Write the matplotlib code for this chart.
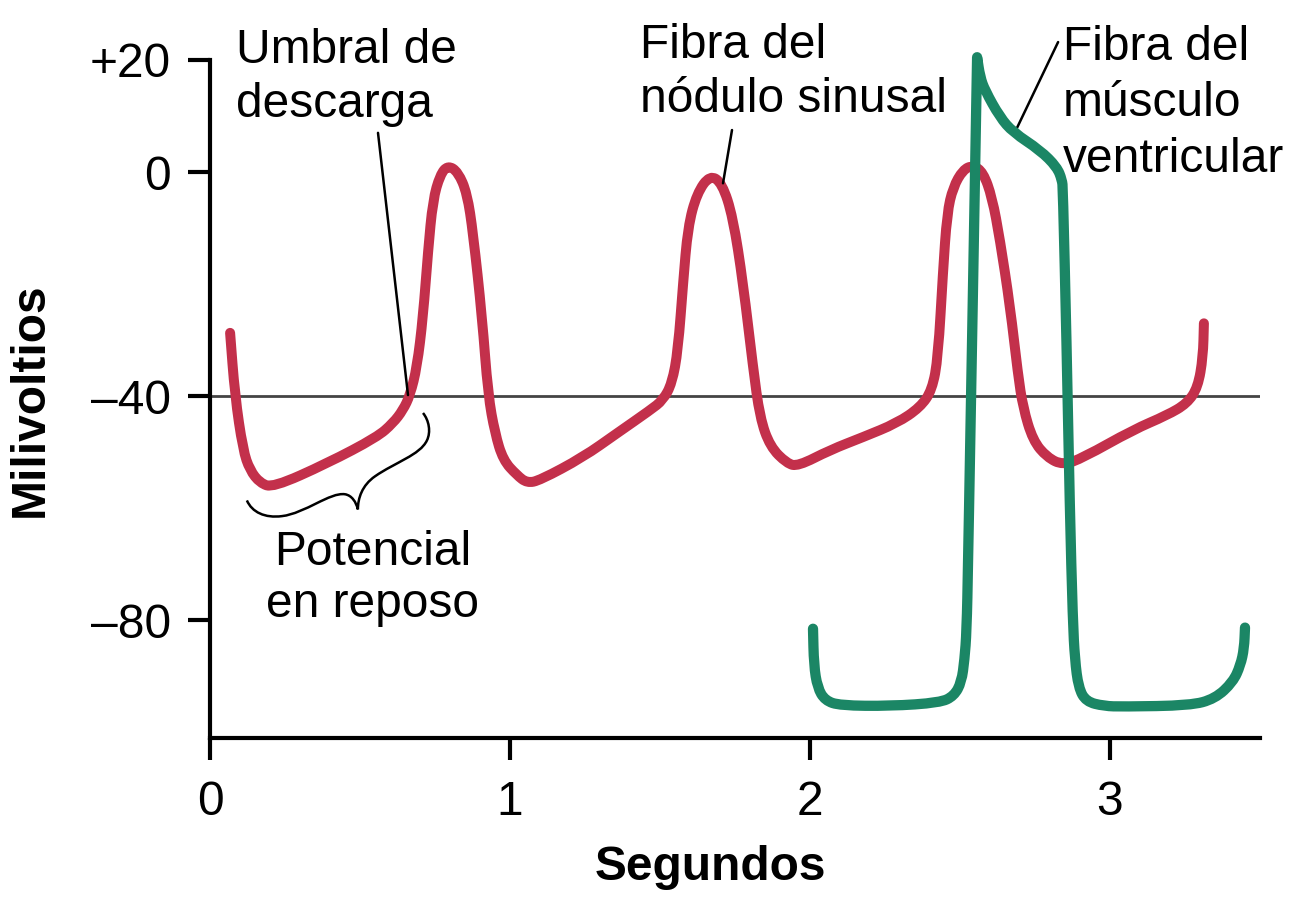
import matplotlib
matplotlib.use("Agg")
import matplotlib.pyplot as plt
from matplotlib.path import Path
from matplotlib.patches import PathPatch

plt.rcParams['font.family'] = ['Liberation Sans', 'DejaVu Sans']

# ---- data (seconds, millivolts) ----
sa_time = [0.067, 0.083, 0.11, 0.133, 0.167, 0.21, 0.39, 0.557, 0.61, 0.643, 0.667,
           0.69, 0.71, 0.727, 0.743, 0.767, 0.793, 0.827, 0.857, 0.877, 0.907, 0.927,
           0.95, 0.977, 1.023, 1.057, 1.10, 1.243, 1.357, 1.467, 1.51, 1.54, 1.56,
           1.577, 1.593, 1.623, 1.667, 1.707, 1.743, 1.777, 1.81, 1.833, 1.867, 1.923,
           1.96, 2.067, 2.177, 2.29, 2.367, 2.407, 2.427, 2.443, 2.457, 2.477, 2.51,
           2.543, 2.577, 2.607, 2.633, 2.667, 2.693, 2.71, 2.743, 2.79, 2.843, 2.91,
           3.077, 3.19, 3.257, 3.293, 3.31, 3.313]
sa_mv = [-28.7, -39.8, -49.6, -53.2, -55.5, -56.3, -52.0, -47.3, -44.8, -42.5, -39.8,
         -34.8, -25.9, -14.0, -5.0, -0.5, 1.2, 0.0, -3.8, -10.9, -25.9, -39.8,
         -46.6, -51.4, -54.1, -55.5, -55.0, -50.9, -46.6, -42.5, -40.7, -37.7, -31.8,
         -19.8, -9.8, -3.8, -0.5, -2.0, -8.0, -19.8, -34.8, -43.8, -49.0, -52.0,
         -52.5, -49.6, -47.3, -44.8, -42.0, -38.9, -33.0, -18.0, -7.3, -2.7, 0.4,
         1.2, 0.0, -4.5, -12.0, -24.0, -36.0, -42.0, -47.9, -50.9, -52.3, -51.0,
         -46.0, -43.4, -41.3, -38.4, -33.0, -27.0]

vm_time = [2.01, 2.013, 2.025, 2.05, 2.10, 2.267, 2.433, 2.48, 2.505, 2.515,
           2.522, 2.527, 2.557, 2.567, 2.583, 2.633, 2.677, 2.767, 2.823, 2.84,
           2.843, 2.855, 2.866, 2.876, 2.883, 2.895, 2.92, 2.98, 3.043, 3.267,
           3.35, 3.41, 3.435, 3.447, 3.45]
vm_mv = [-81.5, -88.0, -92.0, -94.3, -95.2, -95.3, -94.7, -93.5, -91.0, -87.0,
         -82.0, -70.0, 20.5, 17.0, 14.6, 9.8, 7.1, 3.9, 0.9, -1.4,
         -3.0, -30.0, -60.0, -80.0, -87.0, -92.0, -94.5, -95.3, -95.4, -95.2,
         -94.0, -91.0, -88.0, -85.0, -81.3]
vm_peak_index = 12   # sharp spike tip of the ventricular action potential

threshold_mv = -40
x_ticks = [0, 1, 2, 3]
x_labels = ['0', '1', '2', '3']
y_ticks = [20, 0, -40, -80]
y_labels = ['+20', '0', '\u201340', '\u201380']

# decorative curly brace (data coords) under the resting phase
brace_pts = [(0.123, -58.6),
             (0.14, -60.7), (0.183, -61.8), (0.24, -61.4),
             (0.317, -60.9), (0.40, -57.1), (0.45, -57.5),
             (0.473, -57.7), (0.487, -58.9), (0.493, -60.2),
             (0.493, -58.2), (0.507, -55.9), (0.55, -54.3),
             (0.617, -51.8), (0.70, -50.5), (0.723, -47.9),
             (0.737, -46.4), (0.73, -44.3), (0.71, -43.0)]

RED = '#C3304B'
GREEN = '#1B8665'
W, H = 1310, 900
FS = 34.5

fig = plt.figure(figsize=(W / 100, H / 100), dpi=100)
ax = fig.add_axes([210 / W, 1 - 738 / H, 1050 / W, 678 / H])

ax.axhline(threshold_mv, color='#444444', lw=2.0, zorder=2)


def smooth_parts(xs, ys, continue_path=False):
    """Quadratic path using the read points as control points (rendering only)."""
    pts = list(zip(xs, ys))
    mid = lambda a, b: ((a[0] + b[0]) / 2, (a[1] + b[1]) / 2)
    verts = [pts[0], mid(pts[0], pts[1])]
    codes = [Path.LINETO if continue_path else Path.MOVETO, Path.LINETO]
    for i in range(1, len(pts) - 1):
        verts += [pts[i], mid(pts[i], pts[i + 1])]
        codes += [Path.CURVE3, Path.CURVE3]
    verts.append(pts[-1])
    codes.append(Path.LINETO)
    return verts, codes


v, c = smooth_parts(sa_time, sa_mv)
ax.add_patch(PathPatch(Path(v, c), fill=False, edgecolor=RED, lw=7.2,
                       capstyle='round', joinstyle='round', zorder=3,
                       clip_on=False))

k = vm_peak_index
v1, c1 = smooth_parts(vm_time[:k + 1], vm_mv[:k + 1])
v2, c2 = smooth_parts(vm_time[k:], vm_mv[k:], continue_path=True)
ax.add_patch(PathPatch(Path(v1 + v2, c1 + c2), fill=False, edgecolor=GREEN,
                       lw=7.4, capstyle='round', joinstyle='round', zorder=4,
                       clip_on=False))

codes = [Path.MOVETO] + [Path.CURVE4] * (len(brace_pts) - 1)
ax.add_patch(PathPatch(Path(brace_pts, codes), fill=False, lw=1.8,
                       edgecolor='black', zorder=5, clip_on=False))

ax.set_xlim(0, 3.5)
ax.set_ylim(-101, 20)
for s in ['top', 'right']:
    ax.spines[s].set_visible(False)
for s in ['left', 'bottom']:
    ax.spines[s].set_linewidth(3)
    ax.spines[s].set_capstyle('projecting')
ax.set_xticks(x_ticks)
ax.set_xticklabels(x_labels)
ax.set_yticks(y_ticks)
ax.set_yticklabels(y_labels)
ax.tick_params(direction='out', length=16, width=3, labelsize=FS)
ax.tick_params(axis='y', pad=12)
ax.tick_params(axis='x', pad=14)

# axis titles
fig.text(30 / W, 1 - 400 / H, 'Milivoltios', rotation=90, fontweight='bold',
         ha='center', va='center', fontsize=FS)
fig.text(710 / W, 1 - 868 / H, 'Segundos', fontweight='bold',
         ha='center', va='center', fontsize=FS)


# annotation texts (one line each, baseline in pixel coords)
def ftext(x, y, s, ha='left'):
    fig.text(x / W, 1 - y / H, s, ha=ha, va='baseline', fontsize=FS)


ftext(236, 63, 'Umbral de')
ftext(236, 117, 'descarga')
ftext(640, 58, 'Fibra del')
ftext(640, 112, 'nódulo sinusal')
ftext(1063, 60, 'Fibra del')
ftext(1063, 116, 'músculo')
ftext(1063, 172, 'ventricular')
ftext(373, 565, 'Potencial', ha='center')
ftext(373, 617, 'en reposo', ha='center')


# leader lines
def leader(p0, p1):
    ax.annotate('', xy=p1, xytext=p0, xycoords='data', textcoords='data',
                arrowprops=dict(arrowstyle='-', lw=1.8, color='black',
                                shrinkA=0, shrinkB=0),
                annotation_clip=False)


leader((0.56, 7.0), (0.66, -39.8))
leader((1.74, 7.5), (1.71, -2.0))
leader((2.827, 23.2), (2.683, 7.1))

fig.savefig('out.png', dpi=100, facecolor='white')
